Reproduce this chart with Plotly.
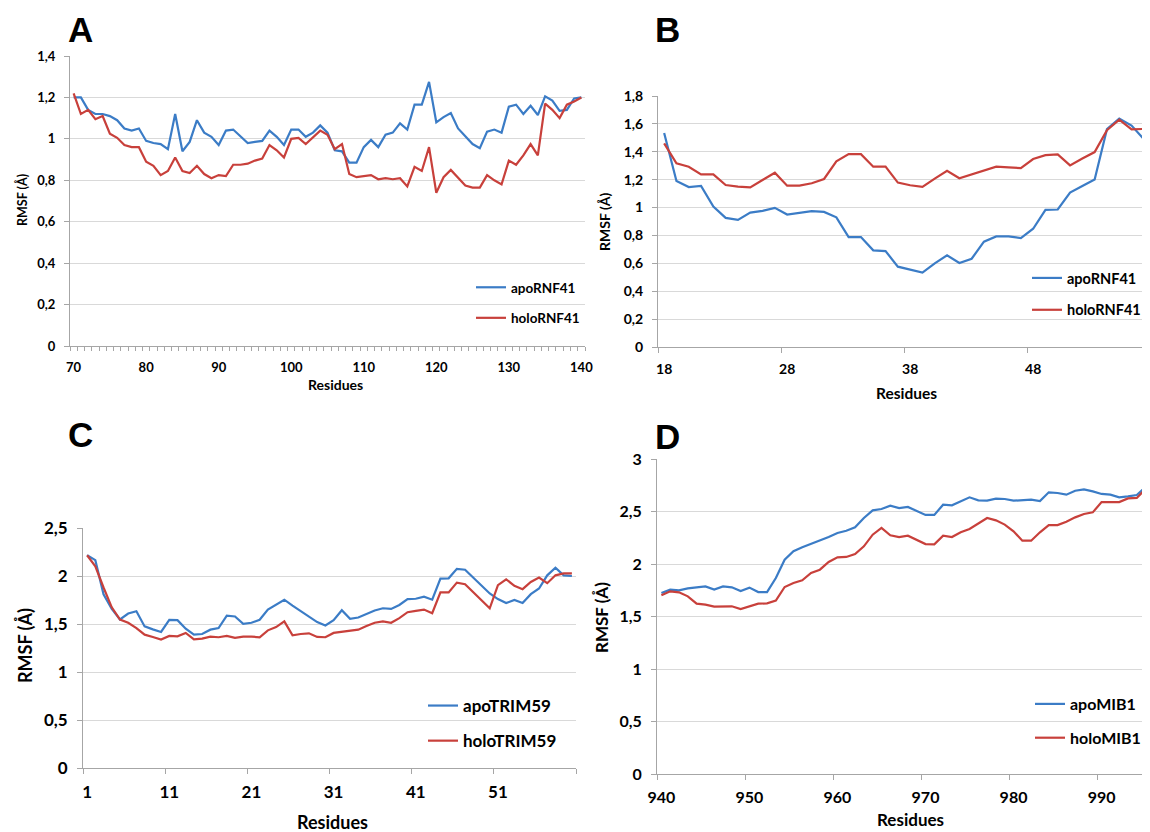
import plotly.graph_objects as go

# The page body adds an 8 px margin, so the figure is 8 px smaller and all
# pixel positions below are given in screen pixels and shifted by OFF.
SCREEN_W, SCREEN_H = 1150, 832
OFF = 8
W, H = SCREEN_W - OFF, SCREEN_H - OFF

# ---------------- data ----------------
resA = list(range(70, 141))
apoA = [1.20, 1.20, 1.14, 1.12, 1.12, 1.11, 1.09, 1.05, 1.04, 1.05,
        0.99, 0.98, 0.975, 0.95, 1.12, 0.94, 0.985, 1.09, 1.03, 1.01,
        0.97, 1.04, 1.045, 1.01, 0.98, 0.985, 0.99, 1.04, 1.01, 0.97,
        1.045, 1.045, 1.01, 1.03, 1.065, 1.03, 0.945, 0.94, 0.885, 0.885,
        0.96, 0.995, 0.96, 1.02, 1.03, 1.075, 1.045, 1.165, 1.165, 1.275,
        1.08, 1.105, 1.125, 1.05, 1.015, 0.975, 0.955, 1.035, 1.045, 1.03,
        1.155, 1.165, 1.12, 1.16, 1.115, 1.205, 1.185, 1.135, 1.14, 1.195, 1.20]
holoA = [1.22, 1.12, 1.14, 1.095, 1.11, 1.025, 1.005, 0.97, 0.96, 0.96,
         0.89, 0.87, 0.825, 0.845, 0.91, 0.845, 0.835, 0.87, 0.83, 0.81,
         0.825, 0.82, 0.875, 0.875, 0.88, 0.895, 0.905, 0.97, 0.945, 0.91,
         1.0, 1.005, 0.975, 1.01, 1.04, 1.02, 0.95, 0.975, 0.83, 0.815,
         0.82, 0.825, 0.805, 0.81, 0.805, 0.81, 0.77, 0.865, 0.845, 0.96,
         0.74, 0.815, 0.85, 0.81, 0.775, 0.765, 0.765, 0.825, 0.80, 0.78,
         0.895, 0.875, 0.92, 0.975, 0.92, 1.17, 1.14, 1.10, 1.165, 1.18, 1.20]

resB = list(range(18, 58))
apoB = [1.535, 1.19, 1.147, 1.155, 1.007, 0.926, 0.912, 0.964, 0.976, 0.998,
        0.95, 0.96, 0.974, 0.969, 0.93, 0.788, 0.788, 0.693, 0.688, 0.576,
        0.552, 0.533, 0.60, 0.657, 0.602, 0.633, 0.755, 0.793, 0.793, 0.781,
        0.848, 0.983, 0.986, 1.107, 1.155, 1.202, 1.562, 1.638, 1.588, 1.49]
holoB = [1.46, 1.317, 1.293, 1.238, 1.238, 1.162, 1.15, 1.145, 1.198, 1.25,
         1.157, 1.157, 1.174, 1.205, 1.331, 1.383, 1.383, 1.293, 1.293, 1.179,
         1.16, 1.148, 1.207, 1.264, 1.21, 1.236, 1.262, 1.293, 1.288, 1.283,
         1.348, 1.376, 1.381, 1.302, 1.352, 1.398, 1.555, 1.631, 1.56, 1.564]

resC = list(range(1, 61))
apoC = [2.216, 2.165, 1.81, 1.657, 1.547, 1.609, 1.633, 1.475, 1.444, 1.417,
        1.544, 1.54, 1.451, 1.389, 1.396, 1.441, 1.458, 1.588, 1.578, 1.502,
        1.513, 1.544, 1.65, 1.698, 1.753, 1.691, 1.633, 1.571, 1.52, 1.485,
        1.54, 1.643, 1.554, 1.568, 1.605, 1.64, 1.664, 1.657, 1.698, 1.76,
        1.763, 1.784, 1.753, 1.973, 1.976, 2.075, 2.065, 1.983, 1.897, 1.818,
        1.76, 1.719, 1.75, 1.719, 1.811, 1.87, 2.007, 2.086, 2.007, 2.0]
holoC = [2.216, 2.10, 1.88, 1.674, 1.547, 1.513, 1.458, 1.389, 1.365, 1.338,
         1.376, 1.372, 1.407, 1.341, 1.348, 1.369, 1.362, 1.376, 1.355, 1.369,
         1.369, 1.362, 1.434, 1.468, 1.527, 1.382, 1.396, 1.403, 1.365, 1.362,
         1.407, 1.417, 1.434, 1.441, 1.478, 1.513, 1.527, 1.513, 1.561, 1.623,
         1.636, 1.65, 1.612, 1.829, 1.829, 1.931, 1.914, 1.829, 1.743, 1.664,
         1.904, 1.966, 1.897, 1.863, 1.938, 1.983, 1.925, 2.007, 2.027, 2.027]

resD = list(range(940, 996))
apoD = [1.724, 1.756, 1.749, 1.768, 1.778, 1.787, 1.756, 1.787, 1.778, 1.743,
        1.775, 1.733, 1.733, 1.867, 2.041, 2.121, 2.159, 2.19, 2.222, 2.257,
        2.295, 2.317, 2.349, 2.438, 2.511, 2.524, 2.556, 2.533, 2.543, 2.502,
        2.467, 2.467, 2.565, 2.559, 2.597, 2.635, 2.606, 2.603, 2.622, 2.619,
        2.603, 2.606, 2.613, 2.60, 2.683, 2.676, 2.66, 2.698, 2.711, 2.692,
        2.667, 2.66, 2.635, 2.644, 2.657, 2.733]
holoD = [1.702, 1.74, 1.73, 1.692, 1.622, 1.613, 1.594, 1.597, 1.597, 1.571,
         1.597, 1.622, 1.625, 1.651, 1.781, 1.819, 1.844, 1.914, 1.946, 2.019,
         2.063, 2.067, 2.095, 2.168, 2.279, 2.343, 2.273, 2.257, 2.27, 2.232,
         2.19, 2.187, 2.27, 2.257, 2.302, 2.333, 2.384, 2.438, 2.416, 2.375,
         2.311, 2.222, 2.222, 2.302, 2.371, 2.371, 2.403, 2.444, 2.476, 2.492,
         2.59, 2.59, 2.59, 2.625, 2.629, 2.714]

ticksA = list(range(70, 141, 10))
ticksB = [18, 28, 38, 48]
ticksC = [1, 11, 21, 31, 41, 51]
ticksD = [940, 950, 960, 970, 980, 990]

BLUE = "#3b7cc6"
RED = "#c8403b"
GRID = "#d9d9d9"
AXIS = "#a6a6a6"
FONT = "Lato"


def fx(px):
    return (px - OFF) / W


def fy(py):
    return 1 - (py - OFF) / H


# panel frames in screen pixels: left, right, top, bottom
panels = {
    "A": dict(box=(70, 585, 56, 346), res=resA, apo=apoA, holo=holoA, yr=(0, 1.4), dy=0.2,
              ticks=ticksA, names=("apoRNF41", "holoRNF41"), fs=13, leg=(585, 272, 13.5),
              every=1),
    "B": dict(box=(658, 1150, 96, 347), res=resB, apo=apoB, holo=holoB, yr=(0, 1.8), dy=0.2,
              ticks=ticksB, names=("apoRNF41", "holoRNF41"), fs=14, leg=(1146, 262, 14.5),
              every=10),
    "C": dict(box=(83, 576, 528, 768), res=resC, apo=apoC, holo=holoC, yr=(0, 2.5), dy=0.5,
              ticks=ticksC, names=("apoTRIM59", "holoTRIM59"), fs=17, leg=(562, 688, 17),
              every=10),
    "D": dict(box=(657, 1150, 459, 774), res=resD, apo=apoD, holo=holoD, yr=(0, 3.0), dy=0.5,
              ticks=ticksD, names=("apoMIB1", "holoMIB1"), fs=16, leg=(1146, 687, 16),
              every=10),
}

fig = go.Figure()
layout = {}
for i, (key, p) in enumerate(panels.items(), start=1):
    sfx = "" if i == 1 else str(i)
    xa, ya = "x" + sfx, "y" + sfx
    legname = "legend" + sfx
    l, r, t, b = p["box"]
    res = p["res"]
    lo, hi = res[0] - 0.5, res[-1] + 0.5
    minor_vals = [lo + k for k in range(0, len(res) + 1, p["every"])]
    fig.add_trace(go.Scatter(x=res, y=p["apo"], mode="lines", name=p["names"][0],
                             line=dict(color=BLUE, width=2.2), xaxis=xa, yaxis=ya,
                             legend=legname, legendgroup=key + "a"))
    fig.add_trace(go.Scatter(x=res, y=p["holo"], mode="lines", name=p["names"][1],
                             line=dict(color=RED, width=2.2), xaxis=xa, yaxis=ya,
                             legend=legname, legendgroup=key + "h"))
    layout["xaxis" + sfx] = dict(
        domain=[fx(l), min(fx(r), 1.0)], anchor=ya, range=[lo, hi], automargin=False,
        tickmode="array", tickvals=p["ticks"], ticktext=[str(v) for v in p["ticks"]],
        ticks="", showgrid=False, zeroline=False,
        showline=True, linecolor=AXIS, linewidth=1,
        minor=dict(tickmode="array", tickvals=minor_vals, ticks="outside",
                   ticklen=5 if p["every"] > 1 else 4, tickcolor=AXIS, showgrid=False),
        tickfont=dict(family=FONT, size=p["fs"], color="#000", weight=700),
        ticklabelstandoff=9,
    )
    layout["yaxis" + sfx] = dict(
        domain=[fy(b), fy(t)], anchor=xa, range=list(p["yr"]), automargin=False,
        tickmode="linear", tick0=0, dtick=p["dy"],
        tickformat=".1~f",
        ticks="outside", ticklen=5, tickcolor=AXIS,
        showgrid=True, gridcolor=GRID, gridwidth=1, zeroline=False,
        showline=True, linecolor=AXIS, linewidth=1,
        tickfont=dict(family=FONT, size=p["fs"], color="#000", weight=700),
        ticklabelstandoff=6,
    )
    lx, ly, lfs = p["leg"]
    layout[legname] = dict(
        x=fx(lx), xanchor="right", y=fy(ly), yanchor="top",
        bgcolor="rgba(0,0,0,0)", tracegroupgap=10,
        font=dict(family=FONT, size=lfs, color="#000", weight=700),
        itemwidth=30,
    )

annotations = []
letters = {"A": (80, 29), "B": (667, 30), "C": (80, 434), "D": (667, 436)}
for k, (x, y) in letters.items():
    annotations.append(dict(text=k, x=fx(x), y=fy(y), xref="paper", yref="paper",
                            xanchor="center", yanchor="middle", showarrow=False,
                            font=dict(family="Liberation Sans", size=35, color="#000",
                                      weight=700)))
xtitles = [(335, 384, 14), (906, 393, 15.5), (332, 822, 18), (910, 819, 17)]
for x, y, s in xtitles:
    annotations.append(dict(text="Residues", x=fx(x), y=fy(y), xref="paper", yref="paper",
                            xanchor="center", yanchor="middle", showarrow=False,
                            font=dict(family=FONT, size=s, color="#000", weight=700)))
ytitles = [(22, 200, 12.5), (604, 222, 14), (25, 646, 18), (601, 618, 17)]
for x, y, s in ytitles:
    annotations.append(dict(text="RMSF (Å)", x=fx(x), y=fy(y), xref="paper", yref="paper",
                            xanchor="center", yanchor="middle", showarrow=False,
                            textangle=-90,
                            font=dict(family=FONT, size=s, color="#000", weight=700)))

fig.update_layout(
    template="none",
    width=W, height=H, margin=dict(l=0, r=0, t=0, b=0, autoexpand=False),
    paper_bgcolor="white", plot_bgcolor="white",
    separators=", ",
    annotations=annotations, showlegend=True,
    **layout,
)
fig.write_html("out.html")
